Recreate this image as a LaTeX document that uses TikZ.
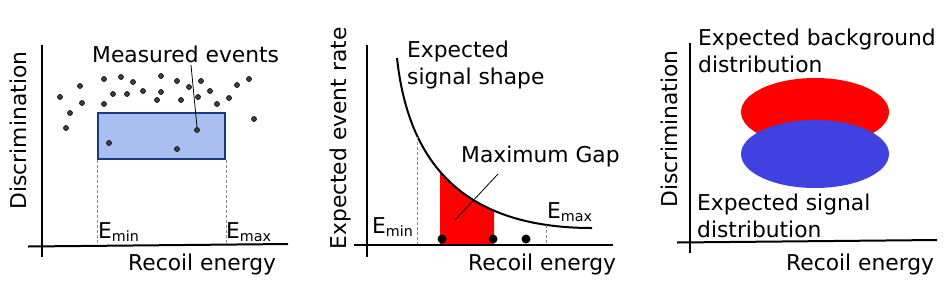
\documentclass[tikz,border=0pt]{standalone}
\usepackage{fontspec}
\setmainfont{DejaVu Sans}
\usepackage{xcolor}
\usepackage{tikz}
\usetikzlibrary{shapes.geometric}
\definecolor{boxblue}{HTML}{A9BFF2}
\definecolor{boxedge}{HTML}{1A3A7A}
\definecolor{sigblue}{HTML}{4141E1}
\newcommand{\lowsub}[1]{\raisebox{-3pt}{\fontsize{14.3}{14.3}\selectfont #1}}
\tikzset{
  % --- axes and guides -------------------------------------------------------
  axis/.style={black,line width=2pt},
  guide/.style={black!45,line width=0.8pt,dash pattern=on 3pt off 2pt},
  leader/.style={black,line width=0.8pt},
  rate/.style={black,line width=2pt},
  % --- text ------------------------------------------------------------------
  txt/.style={font=\fontsize{21.8}{27}\selectfont,inner sep=0pt,
              anchor=base west},
  multi/.style={txt,align=left}, % base = baseline of the last line
  ylab/.style={txt,rotate=90,anchor=base},
  % --- events ----------------------------------------------------------------
  event/.style={circle,fill=black!75,draw=black,line width=0.6pt,
                inner sep=0pt,minimum size=5pt},
  gapdot/.style={circle,fill=black,inner sep=0pt,minimum size=9pt},
  % --- regions ---------------------------------------------------------------
  window/.style={rectangle,fill=boxblue,draw=boxedge,line width=2pt},
  blob/.style={ellipse,inner sep=0pt,minimum width=148pt,minimum height=68pt},
}

\begin{document}
\begin{tikzpicture}[x=1pt, y=-1pt]
  \useasboundingbox (0,0) rectangle (950,301);

  % left: measured events in the energy window
  \node[window,minimum width=127pt,minimum height=46pt] (win) at (161.5,136) {};
  \draw[guide] (win.south west) -- ++(0,85);
  \draw[guide] (win.south east) -- ++(0,85);
  \draw[axis] (28,246.5) -- (288,244);
  \draw[axis] (41.5,45) -- (41.5,257);
  \foreach \x/\y in {60/97,70/113,66/128,80/86,82/103,104/79,104/104,113/94,
                     121/77,127/94,133/82,143/91,157/100,161/92,161/76,177/81,
                     181/100,189/87,198/97,201/81,210/91,217/104,229/98,237/85,
                     249/79,254/119,109/143,177/149}
    \node[event] at (\x,\y) {};
  \node[event] (hit) at (197,130) {};
  \node[txt] (meas) at (92,62) {Measured events};
  \coordinate (mtip) at (191,65);
  \draw[leader] (mtip) -- (hit.north);
  \node[txt] (emin1) at (98,238) {E\lowsub{min}};
  \node[txt] (emax1) at (226,238) {E\lowsub{max}};
  \node[txt] (rec1) at (128,270) {Recoil energy};
  \node[ylab] (disc1) at (26,130.5) {Discrimination};

  % middle: expected signal shape and the maximum gap
  \begin{scope}
    \clip (440,0) rectangle (494,245);
    \fill[red] (397,58) .. controls (408,160) and (460,228) .. (592,228)
      |- (397,245) -- cycle;
  \end{scope}
  \draw[rate] (397,58) .. controls (408,160) and (460,228) .. (592,228)
    coordinate[pos=0.29] (cmin) coordinate[pos=0.875] (cmax);
  \draw[guide] (cmin) -- (cmin |- 0,244);
  \draw[guide] (cmax) -- (cmax |- 0,244);
  \draw[axis] (354,244.5) -- (613,244.5);
  \draw[axis] (366.7,45) -- (366.7,257);
  \node[gapdot] (g1) at (442,239) {};
  \node[gapdot] (g2) at (493,239) {};
  \node[gapdot] (g3) at (526,239) {};
  \node[multi] (shape) at (407,84) {Expected\\signal shape};
  \node[txt] (gap) at (461,162) {Maximum Gap};
  \coordinate (gtip) at (498,174);
  \coordinate (gin) at (455,220);
  \draw[leader] (gtip) -- (gin);
  \node[txt] (emin2) at (372,233) {E\lowsub{min}};
  \node[txt] (emax2) at (547,218) {E\lowsub{max}};
  \node[txt] (rec2) at (468,270) {Recoil energy};
  \node[ylab] (evr) at (346,138.5) {Expected event rate};

  % right: expected background and signal distributions
  \node[blob,fill=red] (bkg) at (815,112) {};
  \node[blob,fill=sigblue] (sig) at (815,154) {};
  \draw[axis] (677,242.5) -- (937,240);
  \draw[axis] (690,43) -- (690,253);
  \node[multi] (bkglab) at (698,72) {Expected background\\distribution};
  \node[multi] (siglab) at (697,237) {Expected signal\\distribution};
  \node[txt] (rec3) at (786,270) {Recoil energy};
  \node[ylab] (disc3) at (677,129) {Discrimination};
\end{tikzpicture}
\end{document}
